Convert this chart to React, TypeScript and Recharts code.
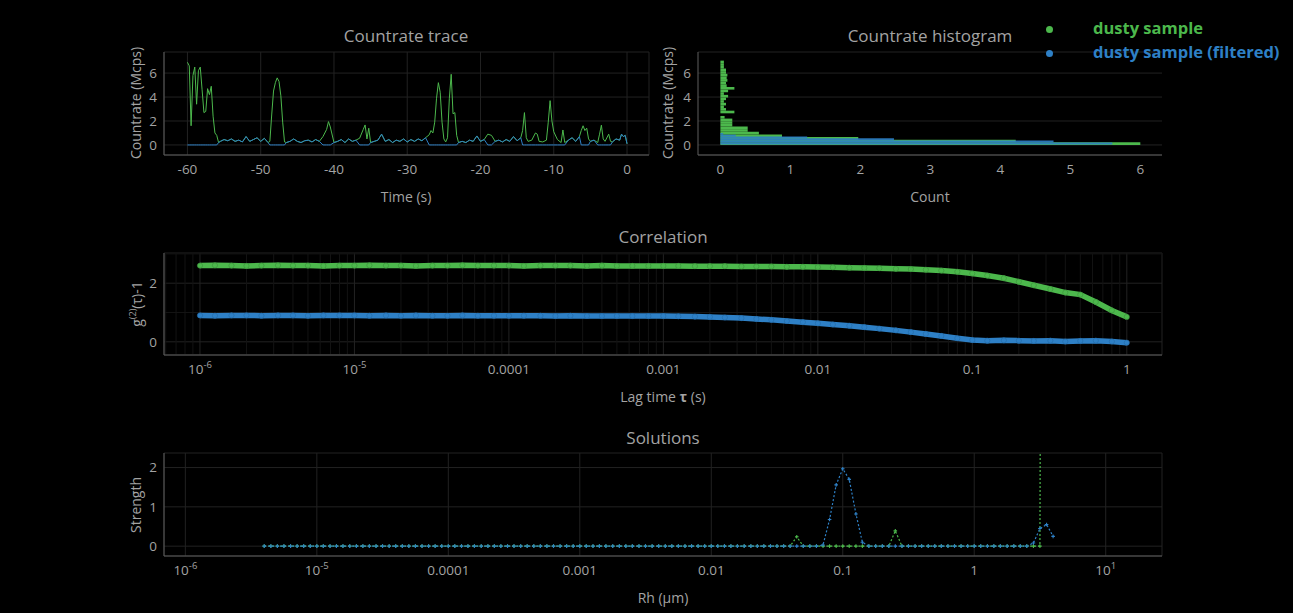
import React from "react";
import {
  LineChart,
  ComposedChart,
  Line,
  XAxis,
  YAxis,
  CartesianGrid,
  ReferenceLine,
  ReferenceArea,
} from "recharts";

const GREEN = "#4cb84c";
const BLUE = "#2e80c6";
const TEXT = "#a3a3a3";
const GRID = "#222222";
const GRID_MINOR = "#131313";
const AXIS = "#5e5e5e";
const FONT = "'Open Sans', 'Noto Sans', sans-serif";

// ---- countrate trace (s, Mcps) ----
const TRACE_TIME = [
  -60, -59.75, -59.5, -59.25, -59, -58.75, -58.5, -58.25, -58, -57.75, -57.5, -57.25, -57, -56.75, -56.5, -56.25, -56, -55.75, -55.5,
  -55, -54.5, -54, -53.5, -53, -52.5, -52, -51.5, -51, -50.5, -50, -49.5, -49,
  -48.75, -48.5, -48.25, -48, -47.75, -47.5, -47.25, -47, -46.75,
  -46.5, -46, -45.5, -45, -44.5, -44, -43.5, -43, -42.5, -42,
  -41.5, -41, -40.75, -40.5, -40,
  -39.5, -39, -38.5, -38, -37.5, -37,
  -36.5, -36, -35.75, -35.5, -35.25, -35,
  -34.5, -34, -33.5, -33, -32.5, -32, -31.5, -31, -30.5, -30, -29.5, -29, -28.5, -28, -27.5,
  -27, -26.75, -26.5, -26.25, -26, -25.75, -25.5, -25.25, -25, -24.75, -24.5, -24.25, -24, -23.75, -23.5, -23.25,
  -23, -22.5, -22, -21.5, -21, -20.5, -20, -19.5,
  -19, -18.5,
  -18, -17.5, -17, -16.5, -16, -15.5, -15, -14.5,
  -14.25, -14, -13.75, -13.5, -13, -12.5, -12.25, -12, -11.5, -11, -10.75, -10.5, -10.25, -10, -9.5, -9, -8.75, -8.5,
  -8, -7.5, -7, -6.5,
  -6.25, -6, -5.75, -5.5, -5.25,
  -5, -4.5,
  -4, -3.75, -3.5, -3.25, -3, -2.5, -2.25,
  -2, -1.5, -1, -0.75, -0.5, -0.25, 0,
];

const GREEN_TRACE = [
  6.9, 6.6, 1.6, 5.8, 6.5, 3.4, 6.2, 6.5, 4.6, 2.7, 2.8, 4.7, 4.2, 4.9, 2.4, 1.0, 0.8, 0.2, 0.3,
  0.45, 0.35, 0.5, 0.3, 0.4, 0.25, 0.7, 0.3, 0.45, 0.6, 0.3, 0.55, 0.2,
  0.3, 2.5, 4.5, 5.2, 5.6, 5.3, 4.1, 1.9, 0.25,
  0.2, 0.3, 0.5, 0.3, 0.2, 0.35, 0.4, 0.25, 0.45, 0.3,
  0.7, 1.3, 1.95, 1.5, 0.2,
  0.3, 0.45, 0.2, 0.5, 0.3, 0.4,
  0.56, 1.3, 1.67, 0.5, 1.4, 0.2,
  0.3, 0.4, 0.9, 0.3, 0.45, 0.2, 0.4, 0.3, 0.5, 0.25, 0.45, 0.3, 0.5, 0.35, 0.6,
  0.85, 1.2, 1.0, 1.9, 3.9, 5.2, 4.4, 1.9, 0.5, 0.25, 0.6, 3.9, 5.9, 2.6, 2.7, 0.8,
  0.2, 0.3, 0.2, 0.4, 0.3, 0.75, 0.3, 0.45,
  0.9, 0.8,
  0.3, 0.4, 0.25, 0.45, 0.3, 0.7, 0.35, 0.6,
  1.2, 2.7, 0.6, 0.3, 0.4, 1.0, 0.9, 0.3, 0.25, 0.4, 1.9, 3.7, 2.0, 1.1, 0.45, 0.2, 1.25, 0.2,
  0.4, 0.6, 0.3, 0.7,
  1.2, 1.6, 1.2, 1.4, 0.5,
  0.3, 0.4,
  0.2, 0.9, 1.65, 0.5, 0.3, 0.9, 0.3,
  0.25, 0.5, 0.4, 0.9, 0.7, 0.8, 0.1,
];

const BLUE_TRACE = [
  0, 0, 0, 0, 0, 0, 0, 0, 0, 0, 0, 0, 0, 0, 0, 0, 0, 0.2, 0.3,
  0.45, 0.35, 0.5, 0.3, 0.4, 0.25, 0.7, 0.3, 0.45, 0.6, 0.3, 0.55, 0.2,
  0, 0, 0, 0, 0, 0, 0, 0, 0,
  0.2, 0.3, 0.5, 0.3, 0.2, 0.35, 0.4, 0.25, 0.45, 0.3,
  0, 0, 0, 0, 0.2,
  0.3, 0.45, 0.2, 0.5, 0.3, 0.4,
  0, 0, 0, 0, 0, 0.2,
  0.3, 0.4, 0.9, 0.3, 0.45, 0.2, 0.4, 0.3, 0.5, 0.25, 0.45, 0.3, 0.5, 0.35, 0.6,
  0, 0, 0, 0, 0, 0, 0, 0, 0, 0, 0, 0, 0, 0, 0, 0,
  0.2, 0.3, 0.2, 0.4, 0.3, 0.75, 0.3, 0.45,
  0, 0,
  0.3, 0.4, 0.25, 0.45, 0.3, 0.7, 0.35, 0.6,
  0, 0, 0, 0, 0, 0, 0, 0, 0, 0, 0, 0, 0, 0, 0, 0, 0, 0,
  0.4, 0.6, 0.3, 0.7,
  0, 0, 0, 0, 0,
  0.3, 0.4,
  0, 0, 0, 0, 0, 0, 0,
  0.25, 0.5, 0.4, 0.9, 0.7, 0.8, 0.1,
];

// ---- countrate histogram (bins in Mcps, counts) ----
const GREEN_BIN_EDGES = [
  0, 0.22, 0.44, 0.66, 0.88, 1.1, 1.32, 1.54, 1.76, 1.98, 2.2, 2.42, 2.64, 2.86, 3.08, 3.3, 3.52,
  3.74, 3.96, 4.18, 4.4, 4.62, 4.84, 5.06, 5.28, 5.5, 5.72, 5.94, 6.16, 6.38, 6.6, 6.82, 7.04,
];
const GREEN_COUNTS = [
  6.0, 4.22, 1.97, 0.88, 0.55, 0.39, 0.39, 0.17, 0.17, 0.17, 0.06, 0, 0.2, 0.08, 0.05, 0.08,
  0.05, 0.08, 0.11, 0.05, 0.11, 0.2, 0.09, 0.08, 0.1, 0.09, 0.1, 0.08, 0.08, 0.05, 0.05, 0.05,
];
const BLUE_BIN_EDGES = [0.04, 0.2, 0.37, 0.56, 0.71, 0.86, 1.0];
const BLUE_COUNTS = [5.6, 4.76, 2.48, 1.24, 0.22, 0.04];

// ---- correlation g2(tau)-1 ----
const LAG_TIME = [
  1e-6, 1.25e-6, 1.6e-6, 2e-6, 2.5e-6, 3.2e-6, 4e-6, 5e-6, 6.3e-6, 8e-6,
  1e-5, 1.25e-5, 1.6e-5, 2e-5, 2.5e-5, 3.2e-5, 4e-5, 5e-5, 6.3e-5, 8e-5,
  1e-4, 1.25e-4, 1.6e-4, 2e-4, 2.5e-4, 3.2e-4, 4e-4, 5e-4, 6.3e-4, 8e-4,
  1e-3, 1.25e-3, 1.6e-3, 2e-3, 2.5e-3, 3.2e-3, 4e-3, 5e-3, 6.3e-3, 8e-3,
  0.01, 0.0125, 0.016, 0.02, 0.025, 0.032, 0.04, 0.05, 0.063, 0.08,
  0.1, 0.125, 0.16, 0.2, 0.25, 0.32, 0.4, 0.5, 0.63, 0.8,
  1,
];
const GREEN_CORR = [
  2.6, 2.61, 2.6, 2.59, 2.6, 2.61, 2.6, 2.6, 2.59, 2.6,
  2.6, 2.61, 2.6, 2.6, 2.59, 2.6, 2.6, 2.61, 2.6, 2.6,
  2.6, 2.59, 2.6, 2.6, 2.6, 2.59, 2.6, 2.59, 2.59, 2.59,
  2.59, 2.59, 2.58, 2.58, 2.58, 2.57, 2.57, 2.57, 2.56, 2.56,
  2.55, 2.54, 2.53, 2.52, 2.51, 2.49, 2.48, 2.46, 2.43, 2.39,
  2.33, 2.26, 2.17, 2.05, 1.93, 1.8, 1.68, 1.61, 1.36, 1.07,
  0.85,
];
const BLUE_CORR = [
  0.9, 0.89, 0.9, 0.9, 0.89, 0.9, 0.9, 0.89, 0.9, 0.9,
  0.9, 0.89, 0.9, 0.89, 0.9, 0.89, 0.89, 0.9, 0.89, 0.89,
  0.89, 0.89, 0.89, 0.88, 0.89, 0.88, 0.88, 0.88, 0.88, 0.88,
  0.88, 0.87, 0.86, 0.85, 0.83, 0.81, 0.78, 0.75, 0.71, 0.67,
  0.63, 0.59, 0.55, 0.5, 0.45, 0.39, 0.33, 0.27, 0.2, 0.12,
  0.06, 0.04, 0.05, 0.04, 0.03, 0.04, 0.01, 0.03, 0.04, 0.01,
  -0.03,
];

// ---- solutions (Rh in um, strength) ----
const RH = [
  3.98e-6, 4.47e-6, 5.01e-6, 5.62e-6, 6.31e-6, 7.08e-6, 7.94e-6, 8.91e-6,
  1e-5, 1.12e-5, 1.26e-5, 1.41e-5, 1.58e-5, 1.78e-5, 2e-5, 2.24e-5, 2.51e-5, 2.82e-5,
  3.16e-5, 3.55e-5, 3.98e-5, 4.47e-5, 5.01e-5, 5.62e-5, 6.31e-5, 7.08e-5, 7.94e-5, 8.91e-5,
  1e-4, 1.12e-4, 1.26e-4, 1.41e-4, 1.58e-4, 1.78e-4, 2e-4, 2.24e-4, 2.51e-4, 2.82e-4,
  3.16e-4, 3.55e-4, 3.98e-4, 4.47e-4, 5.01e-4, 5.62e-4, 6.31e-4, 7.08e-4, 7.94e-4, 8.91e-4,
  1e-3, 1.12e-3, 1.26e-3, 1.41e-3, 1.58e-3, 1.78e-3, 2e-3, 2.24e-3, 2.51e-3, 2.82e-3,
  3.16e-3, 3.55e-3, 3.98e-3, 4.47e-3, 5.01e-3, 5.62e-3, 6.31e-3, 7.08e-3, 7.94e-3, 8.91e-3,
  0.01, 0.0112, 0.0126, 0.0141, 0.0158, 0.0178, 0.02, 0.0224, 0.0251, 0.0282,
  0.0316, 0.0355, 0.0398, 0.0447, 0.0501, 0.0562, 0.0631, 0.0708, 0.0794, 0.0891,
  0.1, 0.112, 0.126, 0.141, 0.158, 0.178, 0.2, 0.224, 0.251, 0.282,
  0.316, 0.355, 0.398, 0.447, 0.501, 0.562, 0.631, 0.708, 0.794, 0.891,
  1, 1.12, 1.26, 1.41, 1.58, 1.78, 2, 2.24, 2.51, 2.82, 3.16, 3.55, 3.98,
];
const BLUE_STRENGTH = [
  0, 0, 0, 0, 0, 0, 0, 0,
  0, 0, 0, 0, 0, 0, 0, 0, 0, 0, 0, 0, 0, 0, 0, 0, 0, 0, 0, 0,
  0, 0, 0, 0, 0, 0, 0, 0, 0, 0, 0, 0, 0, 0, 0, 0, 0, 0, 0, 0,
  0, 0, 0, 0, 0, 0, 0, 0, 0, 0, 0, 0, 0, 0, 0, 0, 0, 0, 0, 0,
  0, 0, 0, 0, 0, 0, 0, 0, 0, 0, 0, 0, 0, 0, 0, 0, 0, 0.03, 0.68, 1.56,
  1.97, 1.7, 0.82, 0.1, 0, 0, 0, 0, 0, 0, 0, 0, 0, 0, 0, 0, 0, 0, 0, 0,
  0, 0, 0, 0, 0, 0, 0, 0, 0, 0.08, 0.45, 0.55, 0.25,
];
// last green point is far off scale (clipped at the top of the panel)
const GREEN_STRENGTH = [
  0, 0, 0, 0, 0, 0, 0, 0,
  0, 0, 0, 0, 0, 0, 0, 0, 0, 0, 0, 0, 0, 0, 0, 0, 0, 0, 0, 0,
  0, 0, 0, 0, 0, 0, 0, 0, 0, 0, 0, 0, 0, 0, 0, 0, 0, 0, 0, 0,
  0, 0, 0, 0, 0, 0, 0, 0, 0, 0, 0, 0, 0, 0, 0, 0, 0, 0, 0, 0,
  0, 0, 0, 0, 0, 0, 0, 0, 0, 0, 0, 0, 0, 0.24, 0, 0, 0, 0, 0, 0,
  0, 0, 0, 0, 0, 0, 0, 0, 0.39, 0, 0, 0, 0, 0, 0, 0, 0, 0, 0, 0,
  0, 0, 0, 0, 0, 0, 0, 0, 0, 0, 0, 60,
];

const TIME_TICKS = [-60, -50, -40, -30, -20, -10, 0];
const COUNT_TICKS = [0, 1, 2, 3, 4, 5, 6];
const RATE_TICKS = [0, 2, 4, 6];
const LAG_TICKS = [1e-6, 1e-5, 1e-4, 1e-3, 0.01, 0.1, 1];
const RH_TICKS = [1e-6, 1e-5, 1e-4, 1e-3, 0.01, 0.1, 1, 10];

const traceRows = TRACE_TIME.map((t, i) => ({ t, green: GREEN_TRACE[i], blue: BLUE_TRACE[i] }));
const corrGreen = LAG_TIME.map((x, i) => ({ x, y: GREEN_CORR[i] }));
const corrBlue = LAG_TIME.map((x, i) => ({ x, y: BLUE_CORR[i] }));
const solGreen = GREEN_STRENGTH.map((y, i) => ({ x: RH[i], y }));
const solBlue = BLUE_STRENGTH.map((y, i) => ({ x: RH[i], y }));

const CORR_DOMAIN = [5.85e-7, 1.69];
const RH_DOMAIN = [6.88e-7, 26.8];

const minorLogLines = (lo: number, hi: number) => {
  const out: number[] = [];
  for (let d = -7; d <= 1; d++) {
    for (let m = 2; m <= 9; m++) {
      const v = m * Math.pow(10, d);
      if (v > lo && v < hi) out.push(v);
    }
  }
  return out;
};

const tickFont = { fill: TEXT, fontSize: 13.5, fontFamily: FONT };

const LogTick = (props: any) => {
  const { x, y, payload } = props;
  const v: number = payload.value;
  const e = Math.round(Math.log10(v));
  const useExp = e <= -5 || e >= 1;
  return (
    <text x={x} y={y} dy="0.71em" textAnchor="middle" fill={TEXT} fontSize={13.5} fontFamily={FONT}>
      {useExp ? (
        <>
          <tspan>10</tspan>
          <tspan dy={-6} fontSize={9.5}>{String(e)}</tspan>
        </>
      ) : (
        String(v)
      )}
    </text>
  );
};

const crossDot = (color: string) => (p: any) => (
  <path
    key={`d-${p.index}`}
    d={`M${p.cx - 1.8},${p.cy}h3.6M${p.cx},${p.cy - 1.8}v3.6`}
    stroke={color}
    strokeWidth={1.1}
    fill="none"
  />
);

function Txt({
  x,
  y,
  children,
  size = 14,
  rotate = false,
  weight = 400,
  color = TEXT,
  start = false,
}: any) {
  const tr = start
    ? "translate(0,-50%)"
    : rotate
    ? "translate(-50%,-50%) rotate(-90deg)"
    : "translate(-50%,-50%)";
  return (
    <div
      style={{
        position: "absolute",
        left: x,
        top: y,
        transform: tr,
        fontSize: size,
        fontWeight: weight,
        color,
        whiteSpace: "nowrap",
        lineHeight: 1,
      }}
    >
      {children}
    </div>
  );
}

export default function App() {
  const corrMinor = minorLogLines(CORR_DOMAIN[0], CORR_DOMAIN[1]);
  return (
    <div
      style={{
        position: "fixed",
        left: 0,
        top: 0,
        width: 1293,
        height: 613,
        background: "#000",
        fontFamily: FONT,
        overflow: "hidden",
      }}
    >
      {/* Countrate trace */}
      <div style={{ position: "absolute", left: 100, top: 40 }}>
        <LineChart width={560} height={150} data={traceRows} margin={{ top: 12, right: 11, left: 10, bottom: 5 }}>
          <CartesianGrid stroke={GRID} />
          <XAxis
            dataKey="t"
            type="number"
            domain={[-63.2, 3.0]}
            ticks={TIME_TICKS}
            allowDataOverflow
            height={30}
            tickLine={false}
            tickSize={5}
            tickMargin={4}
            axisLine={{ stroke: AXIS }}
            tick={tickFont}
          />
          <YAxis
            type="number"
            domain={[-0.84, 7.76]}
            ticks={RATE_TICKS}
            allowDataOverflow
            width={54}
            tickLine={false}
            tickSize={4}
            tickMargin={3}
            axisLine={{ stroke: AXIS }}
            tick={tickFont}
          />
          <Line dataKey="green" stroke={GREEN} strokeWidth={1} dot={false} isAnimationActive={false} />
          <Line dataKey="blue" stroke={BLUE} strokeWidth={1} dot={false} isAnimationActive={false} />
        </LineChart>
      </div>

      {/* Countrate histogram */}
      <div style={{ position: "absolute", left: 634, top: 40 }}>
        <ComposedChart width={540} height={150} margin={{ top: 12, right: 12, left: 10, bottom: 5 }}>
          <CartesianGrid stroke={GRID} vertical={false} />
          <XAxis
            type="number"
            dataKey="c"
            domain={[-0.32, 6.31]}
            ticks={COUNT_TICKS}
            allowDataOverflow
            height={30}
            tickLine={false}
            tickSize={5}
            tickMargin={4}
            axisLine={{ stroke: AXIS }}
            tick={tickFont}
          />
          <YAxis
            type="number"
            domain={[-0.84, 7.76]}
            ticks={RATE_TICKS}
            allowDataOverflow
            width={54}
            tickLine={false}
            tickSize={4}
            tickMargin={3}
            axisLine={{ stroke: AXIS }}
            tick={tickFont}
          />
          {GREEN_COUNTS.map((c, i) => (
            <ReferenceArea
              key={`g${i}`}
              x1={0}
              x2={c}
              y1={GREEN_BIN_EDGES[i]}
              y2={GREEN_BIN_EDGES[i + 1]}
              fill={GREEN}
              fillOpacity={1}
              stroke="none"
              ifOverflow="hidden"
            />
          ))}
          {BLUE_COUNTS.map((c, i) => (
            <ReferenceArea
              key={`b${i}`}
              x1={0}
              x2={c}
              y1={BLUE_BIN_EDGES[i]}
              y2={BLUE_BIN_EDGES[i + 1]}
              fill={BLUE}
              fillOpacity={0.9}
              stroke="none"
              ifOverflow="hidden"
            />
          ))}
        </ComposedChart>
      </div>

      {/* Correlation */}
      <div style={{ position: "absolute", left: 100, top: 240 }}>
        <LineChart width={1080} height={150} margin={{ top: 13, right: 18, left: 10, bottom: 5 }}>
          {corrMinor.map((v) => (
            <ReferenceLine key={`m${v}`} x={v} stroke={GRID_MINOR} ifOverflow="hidden" />
          ))}
          <CartesianGrid stroke={GRID} />
          <ReferenceLine y={1} stroke={GRID_MINOR} />
          <ReferenceLine y={3} stroke={GRID_MINOR} />
          <XAxis
            dataKey="x"
            type="number"
            scale="log"
            domain={CORR_DOMAIN}
            ticks={LAG_TICKS}
            allowDataOverflow
            height={30}
            tickLine={false}
            tickSize={5}
            tickMargin={4}
            axisLine={{ stroke: AXIS }}
            tick={<LogTick />}
          />
          <YAxis
            type="number"
            domain={[-0.45, 3.03]}
            ticks={[0, 2]}
            allowDataOverflow
            width={54}
            tickLine={false}
            tickSize={4}
            tickMargin={3}
            axisLine={{ stroke: AXIS }}
            tick={tickFont}
          />
          <Line
            data={corrGreen}
            dataKey="y"
            stroke={GREEN}
            strokeWidth={5.5}
            dot={{ r: 2.6, fill: GREEN, stroke: "#3a8f3a", strokeWidth: 0.6 }}
            isAnimationActive={false}
          />
          <Line
            data={corrBlue}
            dataKey="y"
            stroke={BLUE}
            strokeWidth={5.5}
            dot={{ r: 2.6, fill: BLUE, stroke: "#246aa6", strokeWidth: 0.6 }}
            isAnimationActive={false}
          />
        </LineChart>
      </div>

      {/* Solutions */}
      <div style={{ position: "absolute", left: 100, top: 440 }}>
        <LineChart width={1080} height={150} margin={{ top: 13, right: 18, left: 10, bottom: 5 }}>
          <CartesianGrid stroke={GRID} />
          <XAxis
            dataKey="x"
            type="number"
            scale="log"
            domain={RH_DOMAIN}
            ticks={RH_TICKS}
            allowDataOverflow
            height={29}
            tickLine={false}
            tickSize={5}
            tickMargin={4}
            axisLine={{ stroke: AXIS }}
            tick={<LogTick />}
          />
          <YAxis
            type="number"
            domain={[-0.25, 2.37]}
            ticks={[0, 1, 2]}
            allowDataOverflow
            width={54}
            tickLine={false}
            tickSize={4}
            tickMargin={3}
            axisLine={{ stroke: AXIS }}
            tick={tickFont}
          />
          <Line
            data={solGreen}
            dataKey="y"
            stroke={GREEN}
            strokeWidth={1.2}
            strokeDasharray="2 2"
            dot={crossDot(GREEN)}
            isAnimationActive={false}
          />
          <Line
            data={solBlue}
            dataKey="y"
            stroke={BLUE}
            strokeWidth={1.2}
            strokeDasharray="2 2"
            dot={crossDot(BLUE)}
            isAnimationActive={false}
          />
        </LineChart>
      </div>

      {/* titles and axis labels */}
      <Txt x={406} y={35} size={17}>Countrate trace</Txt>
      <Txt x={930} y={35} size={17}>Countrate histogram</Txt>
      <Txt x={663} y={236} size={17}>Correlation</Txt>
      <Txt x={663} y={437} size={17}>Solutions</Txt>

      <Txt x={406} y={197}>Time (s)</Txt>
      <Txt x={930} y={197}>Count</Txt>
      <Txt x={663} y={397}>
        Lag time <b>τ</b> (s)
      </Txt>
      <Txt x={663} y={598}>Rh (µm)</Txt>

      <Txt x={136} y={103} rotate>Countrate (Mcps)</Txt>
      <Txt x={668} y={103} rotate>Countrate (Mcps)</Txt>
      <Txt x={136} y={304} rotate>
        g<sup style={{ fontSize: 9 }}>(2)</sup>(τ)-1
      </Txt>
      <Txt x={136} y={505} rotate>Strength</Txt>

      {/* legend */}
      <div style={{ position: "absolute", left: 1046, top: 26, width: 7, height: 7, borderRadius: 4, background: GREEN }} />
      <div style={{ position: "absolute", left: 1046, top: 50, width: 7, height: 7, borderRadius: 4, background: BLUE }} />
      <Txt x={1093} y={28} size={16.5} weight={700} color={GREEN} start>
        dusty sample
      </Txt>
      <Txt x={1093} y={52} size={16.5} weight={700} color={BLUE} start>
        dusty sample (filtered)
      </Txt>
    </div>
  );
}
